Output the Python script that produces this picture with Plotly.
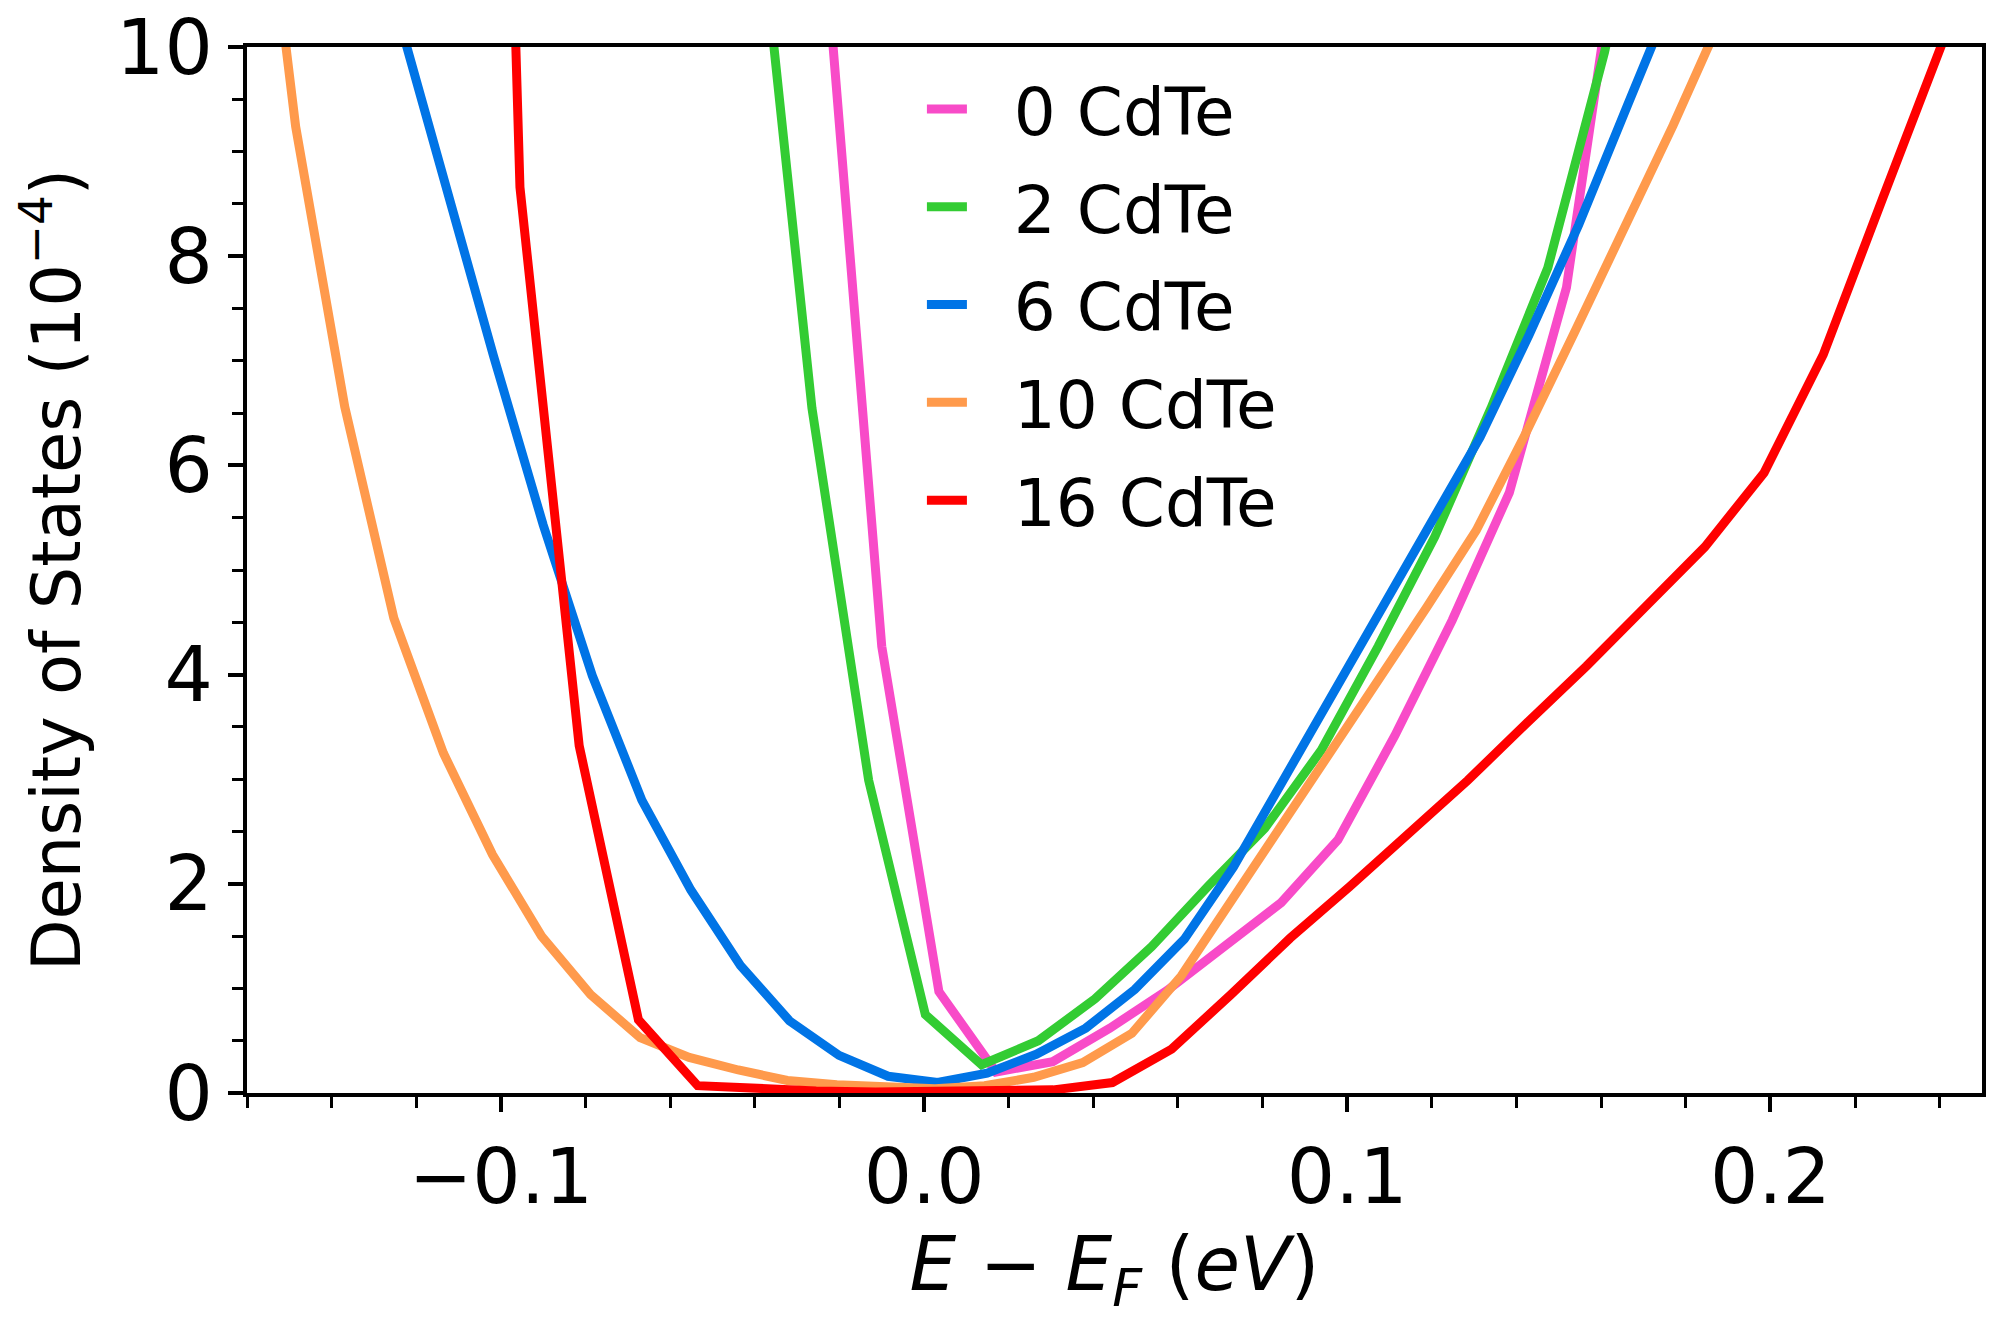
import plotly.graph_objects as go

# energy (eV) and density of states (x1e-4), one pair per slab
e_0 = [-0.0235, -0.0100, 0.0035, 0.0170, 0.0304, 0.0439, 0.0574, 0.0709, 0.0844,
       0.0978, 0.1113, 0.1248, 0.1383, 0.1518, 0.1652]
dos_0 = [11.0, 4.27, 0.97, 0.20, 0.30, 0.62, 0.98, 1.40, 1.82,
         2.42, 3.42, 4.52, 5.74, 7.70, 11.4]

e_2 = [-0.0399, -0.0265, -0.0131, 0.0003, 0.0136, 0.0270, 0.0404, 0.0538, 0.0672,
       0.0805, 0.0939, 0.1073, 0.1207, 0.1340, 0.1474, 0.1608, 0.1742]
dos_2 = [11.7, 6.55, 2.99, 0.75, 0.27, 0.50, 0.90, 1.40, 1.98,
         2.53, 3.28, 4.27, 5.32, 6.55, 7.89, 9.95, 12.5]

e_6 = [-0.1250, -0.1133, -0.1017, -0.0900, -0.0784, -0.0667, -0.0551, -0.0434, -0.0318,
       -0.0201, -0.0085, 0.0032, 0.0149, 0.0265, 0.0382, 0.0498, 0.0615, 0.0731,
       0.0848, 0.0964, 0.1081, 0.1197, 0.1314, 0.1430, 0.1547, 0.1663, 0.1780]
dos_6 = [10.4, 8.70, 7.04, 5.43, 3.99, 2.80, 1.94, 1.22, 0.69,
         0.36, 0.16, 0.10, 0.19, 0.37, 0.62, 0.99, 1.47, 2.16,
         2.99, 3.80, 4.61, 5.45, 6.27, 7.25, 8.30, 9.45, 10.6]

e_10 = [-0.1601, -0.1485, -0.1369, -0.1253, -0.1136, -0.1020, -0.0904, -0.0788, -0.0671,
        -0.0555, -0.0439, -0.0323, -0.0206, -0.0090, 0.0026, 0.0143, 0.0259, 0.0375,
        0.0491, 0.0608, 0.0724, 0.0840, 0.0956, 0.1073, 0.1189, 0.1305, 0.1421,
        0.1538, 0.1654, 0.1770, 0.1886]
dos_10 = [13.1, 9.24, 6.56, 4.54, 3.25, 2.28, 1.50, 0.94, 0.53,
          0.34, 0.22, 0.12, 0.08, 0.05, 0.04, 0.07, 0.15, 0.29,
          0.57, 1.12, 1.82, 2.53, 3.21, 3.95, 4.65, 5.38, 6.30,
          7.28, 8.25, 9.25, 10.3]

e_16 = [-0.1095, -0.0955, -0.0815, -0.0675, -0.0535, -0.0395, -0.0255, -0.0115, 0.0025,
        0.0165, 0.0305, 0.0445, 0.0585, 0.0725, 0.0865, 0.1005, 0.1145, 0.1285,
        0.1425, 0.1565, 0.1705, 0.1845, 0.1985, 0.2125, 0.2265, 0.2405, 0.2545]
dos_16 = [28.0, 8.66, 3.32, 0.70, 0.07, 0.04, 0.02, 0.01, 0.01,
          0.01, 0.03, 0.10, 0.42, 0.94, 1.48, 1.97, 2.47, 2.99,
          3.54, 4.08, 4.65, 5.22, 5.93, 7.06, 8.55, 10.0, 11.5]

labels = ["0 CdTe", "2 CdTe", "6 CdTe", "10 CdTe", "16 CdTe"]
colors = ["#F84BC8", "#33CC33", "#0074E6", "#FF9A4C", "#FF0000"]
series = [(e_0, dos_0), (e_2, dos_2), (e_6, dos_6), (e_10, dos_10), (e_16, dos_16)]

FONT = "DejaVu Sans"
GAP = "\u00a0\u00a0"  # room between legend sample and its label, like matplotlib

fig = go.Figure()
for (x, y), name, c in zip(series, labels, colors):
    fig.add_trace(go.Scatter(x=x, y=y, mode="lines", name=GAP + name, legendgroup=name,
                             line=dict(color=c, width=9)))

axis_common = dict(
    showline=True, linecolor="black", linewidth=4, mirror=True,
    ticks="outside", ticklen=15, tickwidth=4, tickcolor="black",
    showgrid=False, zeroline=False, automargin=False, ticklabeloverflow="allow",
    tickfont=dict(family=FONT, size=76, color="black"),
)
minor_common = dict(ticks="outside", ticklen=11, tickwidth=3, tickcolor="black", showgrid=False)

fig.update_xaxes(
    range=[-0.16, 0.25], dtick=0.1, tick0=0, tickformat=".1f",
    minor=dict(dtick=0.02, tick0=0, **minor_common),
    title=dict(text="<i>E</i> − <i>E</i><sub><i>F</i></sub> (<i>eV</i>)",
               font=dict(family=FONT, size=74, color="black"), standoff=18),
    **axis_common,
)
fig.update_yaxes(
    range=[0, 10], dtick=2, tick0=0,
    minor=dict(dtick=0.5, tick0=0, **minor_common),
    title=dict(text="Density of States (10<sup>−4</sup>)",
               font=dict(family=FONT, size=67, color="black"), standoff=22),
    **axis_common,
)

# the page body adds an 8px margin, so the figure is 8px smaller than the window
fig.update_layout(
    width=1992, height=1312,
    margin=dict(l=239, r=18, t=39, b=227),
    paper_bgcolor="white", plot_bgcolor="white",
    font=dict(family=FONT, color="black"),
    showlegend=True,
    legend=dict(x=0.389, y=0.988, xanchor="left", yanchor="top",
                bgcolor="rgba(0,0,0,0)", borderwidth=0,
                font=dict(family=FONT, size=66, color="black"),
                tracegroupgap=9, itemwidth=40),
)

fig.write_html("out.html")
